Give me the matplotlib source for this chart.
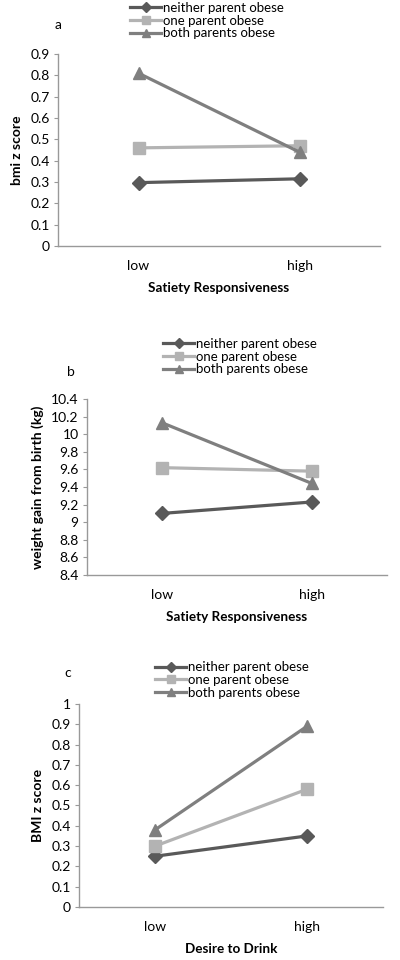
import matplotlib.pyplot as plt
import numpy as np

plt.rcParams['font.family'] = ['Lato', 'DejaVu Sans']

# data
levels = ['low', 'high']
groups = ['neither parent obese', 'one parent obese', 'both parents obese']

bmi_sr = [[0.297, 0.315], [0.46, 0.47], [0.81, 0.44]]
wg_sr = [[9.10, 9.23], [9.62, 9.58], [10.13, 9.44]]
bmi_dd = [[0.25, 0.35], [0.30, 0.58], [0.38, 0.89]]

colors = ['#595959', '#b3b3b3', '#7f7f7f']
markers = ['D', 's', '^']
msizes = [7, 9, 9]

fig = plt.figure(figsize=(4, 9.6), dpi=100)

# panel settings: rect, data, ylim, yticks, ylabel, xlabel, letter, legend pos
panels = [
    ([0.145, 0.74375, 0.805, 0.2], bmi_sr, (0, 0.9), np.arange(0, 0.91, 0.1),
     'bmi z score', 'Satiety Responsiveness', 'a', (0.325, 0.998), (0.137, 0.974)),
    ([0.2175, 0.401, 0.75, 0.1834], wg_sr, (8.4, 10.4), np.arange(8.4, 10.41, 0.2),
     'weight gain from birth (kg)', 'Satiety Responsiveness', 'b', (0.408, 0.648), (0.167, 0.613)),
    ([0.1975, 0.0552, 0.76, 0.2115], bmi_dd, (0, 1), np.arange(0, 1.01, 0.1),
     'BMI z score', 'Desire to Drink', 'c', (0.388, 0.311), (0.162, 0.299)),
]

for rect, data, ylim, yt, ylab, xlab, letter, legpos, letpos in panels:
    ax = fig.add_axes(rect)
    x = np.array([0.5, 1.5])
    for vals, c, m, ms, g in zip(data, colors, markers, msizes, groups):
        ax.plot(x, vals, color=c, marker=m, markersize=ms, lw=2.3, label=g)
    ax.set_xlim(0, 2)
    ax.set_ylim(*ylim)
    ax.set_yticks(yt)
    ax.set_yticklabels(['%g' % round(v, 1) for v in yt])
    ax.set_xticks(x)
    ax.set_xticklabels(levels)
    ax.tick_params(axis='x', length=0, labelsize=10, pad=10)
    ax.tick_params(axis='y', length=3, color='#999999', labelsize=10, pad=3)
    for s in ['top', 'right']:
        ax.spines[s].set_visible(False)
    for s in ['left', 'bottom']:
        ax.spines[s].set_color('#999999')
        ax.spines[s].set_linewidth(1)
    ax.set_ylabel(ylab, fontsize=10, fontweight='bold', labelpad=5)
    ax.set_xlabel(xlab, fontsize=9.7, fontweight='bold', labelpad=7)
    h, l = ax.get_legend_handles_labels()
    fig.legend(h, l, loc='upper left', bbox_to_anchor=legpos, frameon=False,
               fontsize=9.5, handlelength=2.35, handletextpad=0.15, labelspacing=0.05,
               markerscale=0.7, borderaxespad=0, borderpad=0)
    fig.text(letpos[0], letpos[1], letter, fontsize=10, ha='left', va='center')

fig.savefig('out.png', dpi=100, facecolor='white')
